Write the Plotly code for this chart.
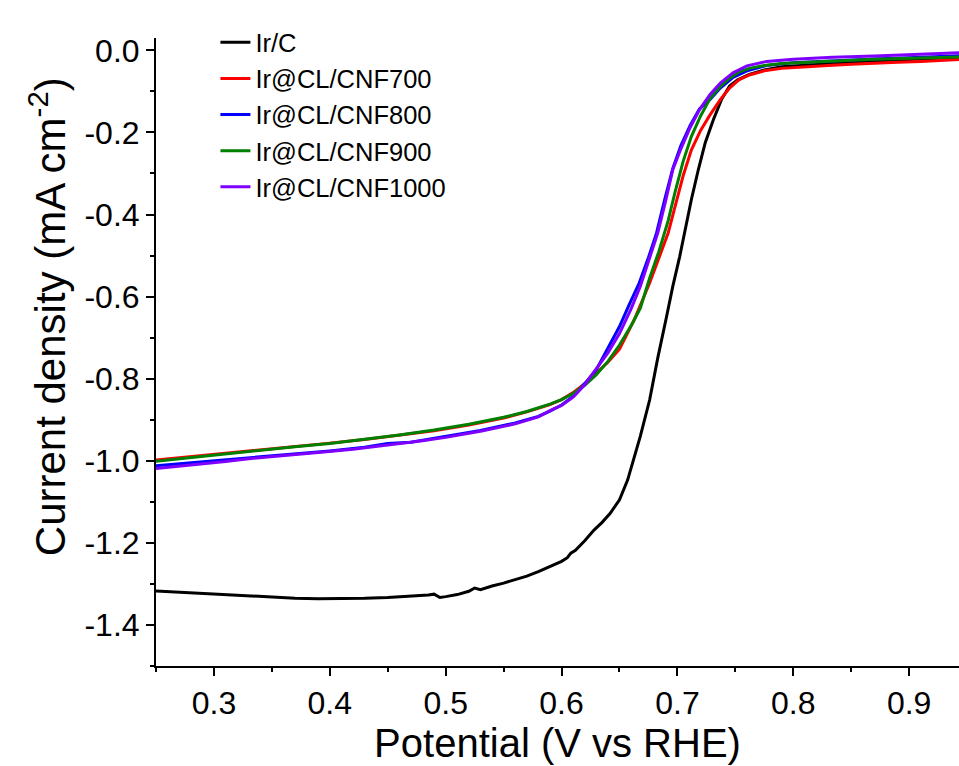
import plotly.graph_objects as go

# ---------------- data ----------------
series_names = ["Ir/C", "Ir@CL/CNF700", "Ir@CL/CNF800", "Ir@CL/CNF900", "Ir@CL/CNF1000"]
series_colors = ["#000000", "#FF0000", "#0000FF", "#008000", "#7F00FF"]

x_irc = [0.25, 0.27, 0.29, 0.31, 0.33, 0.35, 0.37, 0.39, 0.41, 0.43, 0.45, 0.47, 0.485, 0.49,
         0.495, 0.50, 0.51, 0.52, 0.525, 0.53, 0.54, 0.55, 0.56, 0.57, 0.58, 0.59, 0.60, 0.605,
         0.608, 0.612, 0.62, 0.628, 0.635, 0.642, 0.65, 0.657, 0.662, 0.668, 0.676, 0.683, 0.6906,
         0.696, 0.702, 0.707, 0.712, 0.718, 0.724, 0.731, 0.738, 0.745, 0.752, 0.762, 0.775, 0.79,
         0.81, 0.83, 0.85, 0.87, 0.89, 0.91, 0.93, 0.945]
y_irc = [-1.317, -1.320, -1.323, -1.327, -1.330, -1.333, -1.335, -1.336, -1.336, -1.335, -1.333,
         -1.330, -1.327, -1.325, -1.333, -1.331, -1.326, -1.318, -1.310, -1.314, -1.305, -1.298,
         -1.290, -1.281, -1.270, -1.258, -1.245, -1.236, -1.225, -1.218, -1.195, -1.169, -1.150,
         -1.128, -1.095, -1.047, -1.000, -0.940, -0.852, -0.750, -0.649, -0.575, -0.502, -0.430,
         -0.364, -0.291, -0.225, -0.169, -0.120, -0.087, -0.072, -0.059, -0.048, -0.040, -0.036,
         -0.032, -0.029, -0.026, -0.023, -0.021, -0.019, -0.018]

x_700 = [0.25, 0.28, 0.31, 0.34, 0.37, 0.40, 0.43, 0.46, 0.49, 0.52, 0.55, 0.57, 0.59, 0.60, 0.61,
         0.62, 0.63, 0.64, 0.65, 0.663, 0.676, 0.684, 0.692, 0.698, 0.705, 0.712, 0.720, 0.728,
         0.737, 0.745, 0.753, 0.762, 0.775, 0.79, 0.81, 0.83, 0.85, 0.87, 0.89, 0.91, 0.93, 0.945]
y_700 = [-0.998, -0.990, -0.981, -0.973, -0.965, -0.957, -0.948, -0.938, -0.927, -0.913, -0.896,
         -0.881, -0.863, -0.851, -0.834, -0.812, -0.787, -0.760, -0.728, -0.655, -0.567, -0.508,
         -0.445, -0.380, -0.305, -0.243, -0.195, -0.158, -0.120, -0.092, -0.072, -0.060, -0.050,
         -0.044, -0.040, -0.037, -0.034, -0.031, -0.029, -0.027, -0.024, -0.022]

x_800 = [0.25, 0.28, 0.31, 0.34, 0.37, 0.40, 0.43, 0.45, 0.47, 0.50, 0.53, 0.56, 0.58, 0.59, 0.60,
         0.61, 0.62, 0.63, 0.639, 0.65, 0.658, 0.667, 0.675, 0.682, 0.689, 0.696, 0.703, 0.711,
         0.719, 0.728, 0.737, 0.748, 0.76, 0.777, 0.80, 0.834, 0.87, 0.90, 0.945]
y_800 = [-1.012, -1.005, -0.998, -0.990, -0.983, -0.976, -0.967, -0.958, -0.955, -0.941, -0.926,
         -0.908, -0.892, -0.879, -0.864, -0.843, -0.812, -0.778, -0.730, -0.673, -0.622, -0.567,
         -0.505, -0.445, -0.364, -0.288, -0.232, -0.183, -0.143, -0.120, -0.092, -0.066, -0.050,
         -0.037, -0.030, -0.025, -0.021, -0.018, -0.013]

x_900 = [0.25, 0.28, 0.31, 0.34, 0.37, 0.40, 0.43, 0.46, 0.49, 0.52, 0.55, 0.57, 0.59, 0.60, 0.61,
         0.62, 0.63, 0.64, 0.65, 0.66, 0.668, 0.676, 0.684, 0.692, 0.698, 0.705, 0.712, 0.720,
         0.728, 0.737, 0.745, 0.753, 0.762, 0.775, 0.79, 0.81, 0.83, 0.85, 0.87, 0.89, 0.91, 0.93,
         0.945]
y_900 = [-1.001, -0.992, -0.983, -0.975, -0.966, -0.958, -0.948, -0.937, -0.925, -0.911, -0.894,
         -0.880, -0.862, -0.851, -0.836, -0.816, -0.790, -0.758, -0.718, -0.671, -0.628, -0.555,
         -0.490, -0.415, -0.345, -0.270, -0.210, -0.160, -0.118, -0.088, -0.068, -0.053, -0.044,
         -0.037, -0.032, -0.029, -0.026, -0.024, -0.022, -0.020, -0.018, -0.017, -0.016]

x_1000 = [0.25, 0.28, 0.31, 0.33, 0.36, 0.39, 0.42, 0.45, 0.48, 0.50, 0.53, 0.56, 0.58, 0.59, 0.60,
          0.61, 0.62, 0.625, 0.63, 0.64, 0.65, 0.66, 0.668, 0.675, 0.683, 0.690, 0.696, 0.703,
          0.711, 0.719, 0.728, 0.737, 0.748, 0.76, 0.777, 0.80, 0.834, 0.87, 0.90, 0.945]
y_1000 = [-1.019, -1.011, -1.002, -0.995, -0.988, -0.980, -0.972, -0.962, -0.951, -0.943, -0.928,
          -0.910, -0.893, -0.878, -0.865, -0.845, -0.815, -0.795, -0.775, -0.737, -0.690, -0.630,
          -0.575, -0.515, -0.445, -0.365, -0.291, -0.240, -0.188, -0.145, -0.108, -0.080, -0.055,
          -0.038, -0.027, -0.022, -0.017, -0.014, -0.011, -0.006]

x_tickvals = [0.3, 0.4, 0.5, 0.6, 0.7, 0.8, 0.9]
x_ticktext = ["0.3", "0.4", "0.5", "0.6", "0.7", "0.8", "0.9"]
y_tickvals = [0.0, -0.2, -0.4, -0.6, -0.8, -1.0, -1.2, -1.4]
y_ticktext = ["0.0", "-0.2", "-0.4", "-0.6", "-0.8", "-1.0", "-1.2", "-1.4"]

x_title = "Potential (V vs RHE)"
y_title = "Current density (mA cm<sup>-2</sup>)"

xs = [x_irc, x_700, x_800, x_900, x_1000]
ys = [y_irc, y_700, y_800, y_900, y_1000]

# ---------------- figure ----------------
FONT = "Liberation Sans, Arial, sans-serif"
fig = go.Figure()
for name, color, x, y in zip(series_names, series_colors, xs, ys):
    fig.add_trace(go.Scatter(x=x, y=y, mode="lines", name=name,
                             line=dict(color=color, width=3)))

axis_common = dict(
    showline=True, linecolor="black", linewidth=2, showgrid=False, zeroline=False,
    ticks="outside", ticklen=8, tickwidth=2, tickcolor="black",
    tickfont=dict(family=FONT, size=32, color="black"), mirror=False,
)

fig.update_xaxes(
    range=[0.25, 0.943], tickvals=x_tickvals, ticktext=x_ticktext,
    minor=dict(ticks="outside", ticklen=4, tickwidth=2, tickcolor="black", dtick=0.05, tick0=0.25),
    title=dict(text=x_title, font=dict(family=FONT, size=40, color="black"), standoff=1),
    **axis_common,
)
fig.update_yaxes(
    range=[-1.5, 0.03], tickvals=y_tickvals, ticktext=y_ticktext,
    minor=dict(ticks="outside", ticklen=4, tickwidth=2, tickcolor="black", dtick=0.1, tick0=0),
    **axis_common,
)

# y-axis title placed as in the reference (centred a little above the plot's middle)
fig.add_annotation(
    text=y_title, xref="paper", yref="paper", x=-0.1345, y=0.557,
    xanchor="center", yanchor="middle", textangle=-90, showarrow=False,
    font=dict(family=FONT, size=42, color="black"),
)

fig.update_layout(
    width=959, height=766,
    margin=dict(l=156, r=0, t=38, b=100, pad=0),
    paper_bgcolor="white", plot_bgcolor="white",
    font=dict(family=FONT, color="black"),
    showlegend=True,
    legend=dict(x=0.074, y=1.03, xanchor="left", yanchor="top",
                bgcolor="rgba(0,0,0,0)", borderwidth=0,
                font=dict(family=FONT, size=25.5, color="black"),
                tracegroupgap=0),
)

fig.write_html("out.html")
